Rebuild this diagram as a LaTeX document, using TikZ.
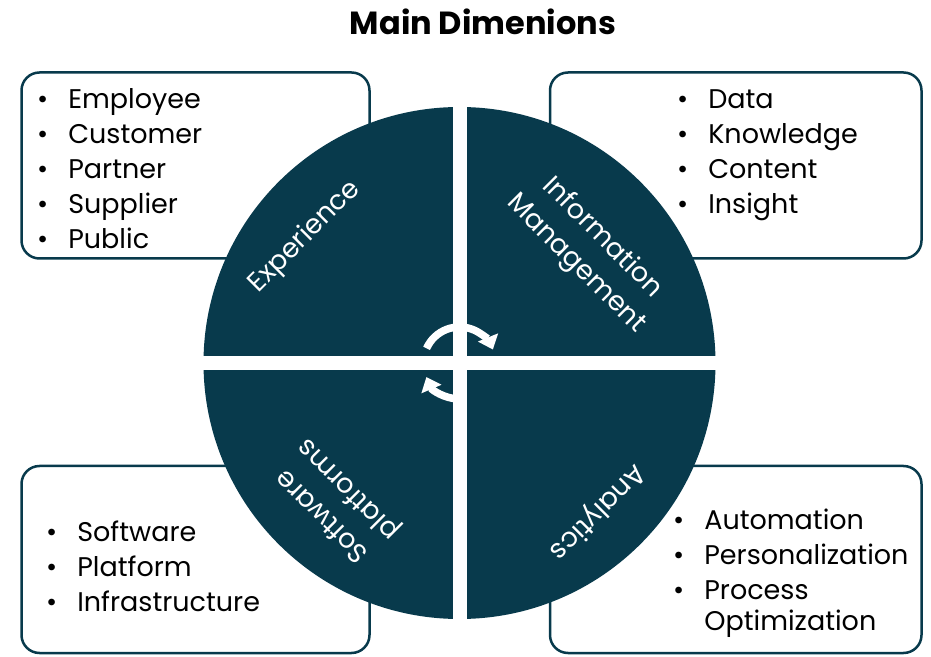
\documentclass[tikz,border=0pt]{standalone}
\usepackage{fontspec}
\setmainfont{Poppins}
\usetikzlibrary{arrows.meta}
\definecolor{dimteal}{HTML}{083A4C}
\begin{document}
\begin{tikzpicture}[x=1pt,y=1pt,
  box/.style={draw=dimteal, line width=2.5pt, rounded corners=18pt, fill=white, inner sep=0pt},
  wtext/.style={text=white, inner sep=0pt, font=\fontsize{27}{37}\selectfont},
  listtext/.style={text=black, inner sep=0pt, anchor=west, font=\fontsize{27}{35}\selectfont},
  cyclearrow/.style={draw=white, line width=7.5pt, -{Triangle[width=21pt,length=13pt]}},
  gap/.style={fill=white}]
\useasboundingbox (0,0) rectangle (931,656);
% title
\node[inner sep=0pt, font=\fontsize{32}{36}\selectfont\bfseries] (title) at (483,634) {Main Dimenions};
% boxes
\node[box, minimum width=348pt, minimum height=186pt] (tlbox) at (195.5,490.5) {};
\node[box, minimum width=371.5pt, minimum height=186pt] (trbox) at (735.75,490.5) {};
\node[box, minimum width=348pt, minimum height=187pt] (blbox) at (195.5,96.5) {};
\node[box, minimum width=371.5pt, minimum height=187pt] (brbox) at (735.75,96.5) {};
% wheel
\node[circle, fill=dimteal, minimum size=512pt, inner sep=0pt] (wheel) at (459.5,293) {};
\fill[gap] (452.5,30) rectangle (466.5,556);
\fill[gap] (200,286) rectangle (719,300);
% cycle arrows
\coordinate (c) at (459.5,293);
\draw[cyclearrow] ([shift={(156:36)}]c) arc[start angle=156, end angle=22, radius=36];
\draw[cyclearrow] ([shift={(268:36)}]c) arc[start angle=268, end angle=203, radius=36];
% wheel labels
\node[wtext, rotate=45] (exp) at (305,419) {Experience};
\node[wtext, rotate=-45, align=center] (im) at (589,405) {Information\\Management};
\node[wtext, rotate=225] (an) at (597,144) {Analytics};
\node[wtext, rotate=135, align=center] (sp) at (336,154) {Software\\platforms};
% lists
\node[listtext] (tllist) at (37,484.5) {\begin{tabular}{@{}l@{\hspace{20pt}}l@{}}•&Employee\\•&Customer\\•&Partner\\•&Supplier\\•&Public\end{tabular}};
\node[listtext] (trlist) at (677,502) {\begin{tabular}{@{}l@{\hspace{20pt}}l@{}}•&Data\\•&Knowledge\\•&Content\\•&Insight\end{tabular}};
\node[listtext] (bllist) at (46,87) {\begin{tabular}{@{}l@{\hspace{20pt}}l@{}}•&Software\\•&Platform\\•&Infrastructure\end{tabular}};
\node[listtext] (brlist) at (673,83) {\begin{tabular}{@{}l@{\hspace{20pt}}l@{}}•&Automation\\•&Personalization\\•&Process\\[-4pt]&Optimization\end{tabular}};
\end{tikzpicture}
\end{document}
